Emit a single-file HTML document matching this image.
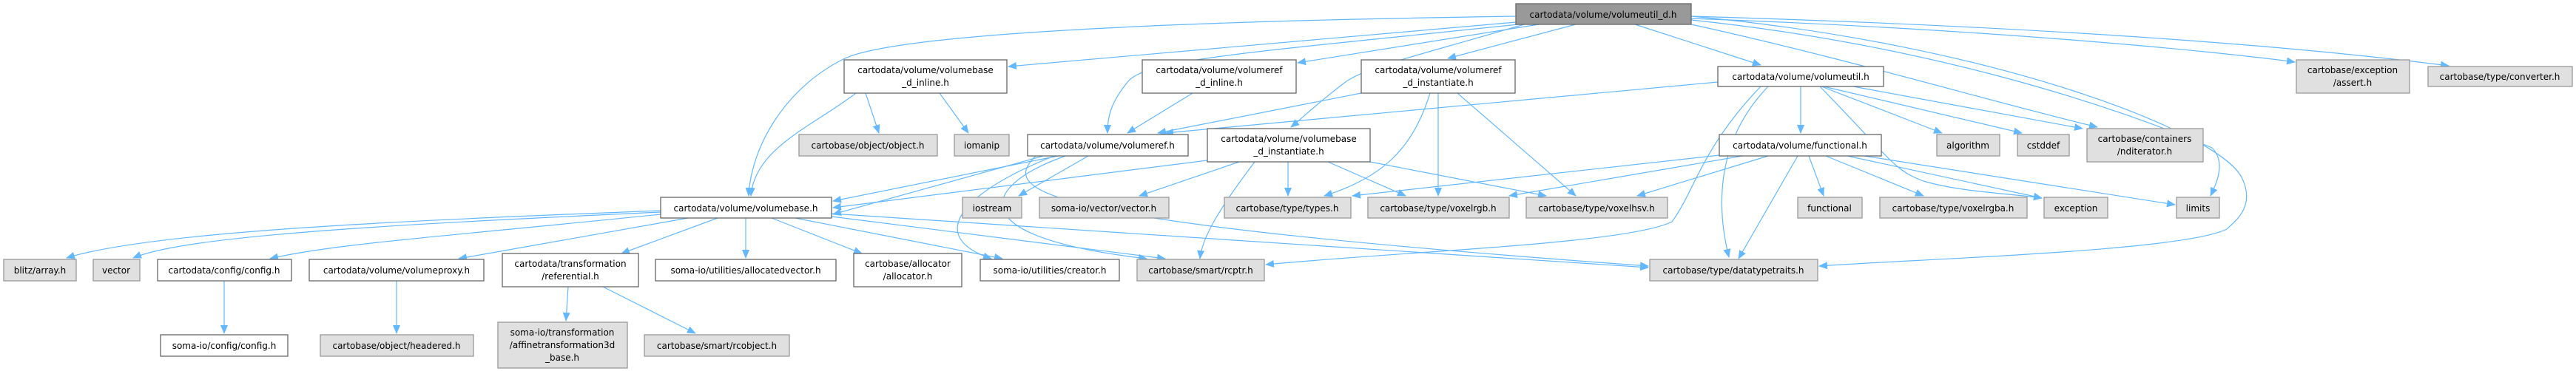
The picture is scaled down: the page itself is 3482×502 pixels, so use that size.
<!DOCTYPE html>
<html><head><meta charset="utf-8"><style>
html,body{margin:0;padding:0;background:#fff;}
svg{display:block;}
text{font-family:"DejaVu Sans","Liberation Sans",sans-serif;font-size:12px;fill:#000;}
.w{fill:#fff;stroke:#666;stroke-width:1.3;}
.g{fill:#e0e0e0;stroke:#999;stroke-width:1.3;}
.r{fill:#999;stroke:#666;stroke-width:1.3;}
.e{fill:none;stroke:#63b8ff;stroke-width:1.2;}
</style></head><body>
<svg width="3482" height="502" viewBox="0 0 3482 502" xmlns="http://www.w3.org/2000/svg">
<defs><marker id="a" markerWidth="12" markerHeight="10" refX="11" refY="5" orient="auto" markerUnits="userSpaceOnUse"><path d="M0,0 L12,5 L0,10 z" fill="#63b8ff"/></marker></defs>
<g class="e" marker-end="url(#a)">
<!-- from volumeutil_d -->
<path d="M2049,22 C1500,30 1200,50 1140,80 C1060,120 1015,200 1012,265"/>
<path d="M2049,30 L1363,90"/>
<path d="M2052,33 C1700,70 1550,80 1525,110 C1500,140 1497,160 1497,180"/>
<path d="M2080,33 L1754,85"/>
<path d="M2130,33 L1957,79"/>
<path d="M2060,33 C1900,80 1850,90 1820,110 C1780,140 1760,160 1745,172"/>
<path d="M2210,33 L2380,88"/>
<path d="M2286,33 C2500,80 2700,140 2835,172"/>
<path d="M2286,27 C2600,60 2850,140 2990,200 C3010,220 2995,250 2988,265"/>
<path d="M2286,22 C2700,60 3000,180 3030,240 C3050,280 3020,300 3010,310 C2950,340 2600,350 2459,360"/>
<path d="M2286,25 C2700,40 3000,70 3102,84"/>
<path d="M2286,22 C2900,40 3200,75 3310,89"/>
<!-- volumebase_d_inline -->
<path d="M1157,126 C1100,170 1020,200 1015,265"/>
<path d="M1170,126 L1188,180"/>
<path d="M1270,126 L1309,180"/>
<!-- volumeref_d_inline -->
<path d="M1612,126 L1524,180"/>
<!-- volumeref_d_instantiate -->
<path d="M1840,126 L1565,180"/>
<path d="M1933,126 C1910,200 1870,240 1790,265"/>
<path d="M1944,126 L1944,265"/>
<path d="M1970,126 L2130,265"/>
<!-- volumeutil.h -->
<path d="M2322,111 L1575,180"/>
<path d="M2434,117 L2434,180"/>
<path d="M2462,117 L2625,180"/>
<path d="M2465,117 L2733,180"/>
<path d="M2505,117 L2815,174"/>
<path d="M2460,117 C2560,220 2560,230 2600,245 C2650,260 2720,262 2760,268"/>
<path d="M2380,117 C2300,200 2290,260 2260,300 C2200,330 1900,340 1711,358"/>
<path d="M2390,117 C2310,200 2325,300 2337,348"/>
<!-- volumeref.h -->
<path d="M1430,211 L1126,272"/>
<path d="M1410,211 L1126,290"/>
<path d="M1471,211 L1377,265"/>
<path d="M1425,211 C1300,260 1250,320 1340,350"/>
<path d="M1440,211 C1330,250 1290,320 1550,350"/>
<path d="M1400,211 C1350,260 1400,300 2228,360"/>
<!-- volumebase_d_instantiate -->
<path d="M1632,217 L1126,281"/>
<path d="M1675,219 L1540,265"/>
<path d="M1696,219 C1650,280 1625,320 1622,350"/>
<path d="M1741,219 L1741,265"/>
<path d="M1795,219 L1900,265"/>
<path d="M1852,219 L2090,265"/>
<!-- functional.h -->
<path d="M2324,210 L1828,265"/>
<path d="M2355,211 L2040,265"/>
<path d="M2390,211 L2213,265"/>
<path d="M2430,211 L2350,350"/>
<path d="M2445,211 L2465,265"/>
<path d="M2468,211 L2600,265"/>
<path d="M2497,211 L2760,268"/>
<path d="M2520,211 L2940,277"/>
<!-- volumebase.h -->
<path d="M893,285 C500,300 200,315 90,349"/>
<path d="M893,287 C500,305 250,320 180,349"/>
<path d="M893,290 C600,320 450,330 365,350"/>
<path d="M930,295 L620,350"/>
<path d="M970,295 L840,343"/>
<path d="M1008,295 L1008,349"/>
<path d="M1043,295 L1165,343"/>
<path d="M1075,295 L1355,350"/>
<path d="M1124,293 L1575,350"/>
<path d="M1124,289 L2228,362"/>
<path d="M303,380 L303,451"/>
<path d="M536,380 L536,451"/>
<path d="M768,388 L765,434"/>
<path d="M815,388 L940,451"/>
</g>
<g>
<rect class="r" x="2049" y="5" width="237" height="28"/><text x="2167" y="24" text-anchor="middle">cartodata/volume/volumeutil_d.h</text>
<rect class="w" x="1141" y="81" width="220" height="45"/><text x="1251" y="99" text-anchor="middle">cartodata/volume/volumebase</text><text x="1251" y="116" text-anchor="middle">_d_inline.h</text>
<rect class="w" x="1544" y="81" width="208" height="45"/><text x="1648" y="99" text-anchor="middle">cartodata/volume/volumeref</text><text x="1648" y="116" text-anchor="middle">_d_inline.h</text>
<rect class="w" x="1840" y="81" width="208" height="45"/><text x="1944" y="99" text-anchor="middle">cartodata/volume/volumeref</text><text x="1944" y="116" text-anchor="middle">_d_instantiate.h</text>
<rect class="w" x="2322" y="90" width="224" height="27"/><text x="2434" y="108" text-anchor="middle">cartodata/volume/volumeutil.h</text>
<rect class="g" x="3104" y="81" width="153" height="45"/><text x="3180" y="99" text-anchor="middle">cartobase/exception</text><text x="3180" y="116" text-anchor="middle">/assert.h</text>
<rect class="g" x="3282" y="90" width="195" height="27"/><text x="3379" y="108" text-anchor="middle">cartobase/type/converter.h</text>

<rect class="g" x="1080" y="182" width="187" height="29"/><text x="1173" y="201" text-anchor="middle">cartobase/object/object.h</text>
<rect class="g" x="1290" y="182" width="74" height="29"/><text x="1327" y="201" text-anchor="middle">iomanip</text>
<rect class="w" x="1389" y="182" width="217" height="29"/><text x="1497" y="201" text-anchor="middle">cartodata/volume/volumeref.h</text>
<rect class="w" x="1632" y="174" width="220" height="45"/><text x="1742" y="192" text-anchor="middle">cartodata/volume/volumebase</text><text x="1742" y="209" text-anchor="middle">_d_instantiate.h</text>
<rect class="w" x="2324" y="182" width="219" height="29"/><text x="2433" y="201" text-anchor="middle">cartodata/volume/functional.h</text>
<rect class="g" x="2618" y="182" width="85" height="29"/><text x="2660" y="201" text-anchor="middle">algorithm</text>
<rect class="g" x="2727" y="182" width="70" height="29"/><text x="2762" y="201" text-anchor="middle">cstddef</text>
<rect class="g" x="2821" y="174" width="157" height="45"/><text x="2899" y="192" text-anchor="middle">cartobase/containers</text><text x="2899" y="209" text-anchor="middle">/nditerator.h</text>

<rect class="w" x="893" y="267" width="231" height="28"/><text x="1008" y="286" text-anchor="middle">cartodata/volume/volumebase.h</text>
<rect class="g" x="1301" y="267" width="80" height="28"/><text x="1341" y="286" text-anchor="middle">iostream</text>
<rect class="g" x="1405" y="267" width="175" height="28"/><text x="1492" y="286" text-anchor="middle">soma-io/vector/vector.h</text>
<rect class="g" x="1655" y="267" width="171" height="28"/><text x="1740" y="286" text-anchor="middle">cartobase/type/types.h</text>
<rect class="g" x="1849" y="267" width="191" height="28"/><text x="1944" y="286" text-anchor="middle">cartobase/type/voxelrgb.h</text>
<rect class="g" x="2063" y="267" width="191" height="28"/><text x="2158" y="286" text-anchor="middle">cartobase/type/voxelhsv.h</text>
<rect class="g" x="2430" y="267" width="87" height="28"/><text x="2473" y="286" text-anchor="middle">functional</text>
<rect class="g" x="2541" y="267" width="199" height="28"/><text x="2640" y="286" text-anchor="middle">cartobase/type/voxelrgba.h</text>
<rect class="g" x="2763" y="267" width="86" height="28"/><text x="2806" y="286" text-anchor="middle">exception</text>
<rect class="g" x="2942" y="267" width="58" height="28"/><text x="2971" y="286" text-anchor="middle">limits</text>

<rect class="g" x="5" y="351" width="98" height="29"/><text x="54" y="370" text-anchor="middle">blitz/array.h</text>
<rect class="g" x="126" y="351" width="63" height="29"/><text x="157" y="370" text-anchor="middle">vector</text>
<rect class="w" x="213" y="351" width="181" height="29"/><text x="303" y="370" text-anchor="middle">cartodata/config/config.h</text>
<rect class="w" x="418" y="351" width="236" height="29"/><text x="536" y="370" text-anchor="middle">cartodata/volume/volumeproxy.h</text>
<rect class="w" x="679" y="343" width="184" height="45"/><text x="771" y="361" text-anchor="middle">cartodata/transformation</text><text x="771" y="378" text-anchor="middle">/referential.h</text>
<rect class="w" x="886" y="351" width="244" height="29"/><text x="1008" y="370" text-anchor="middle">soma-io/utilities/allocatedvector.h</text>
<rect class="w" x="1154" y="343" width="146" height="45"/><text x="1227" y="361" text-anchor="middle">cartobase/allocator</text><text x="1227" y="378" text-anchor="middle">/allocator.h</text>
<rect class="w" x="1325" y="351" width="188" height="29"/><text x="1419" y="370" text-anchor="middle">soma-io/utilities/creator.h</text>
<rect class="g" x="1537" y="351" width="172" height="29"/><text x="1623" y="370" text-anchor="middle">cartobase/smart/rcptr.h</text>
<rect class="g" x="2230" y="351" width="227" height="29"/><text x="2343" y="370" text-anchor="middle">cartobase/type/datatypetraits.h</text>

<rect class="w" x="217" y="453" width="172" height="29"/><text x="303" y="472" text-anchor="middle">soma-io/config/config.h</text>
<rect class="g" x="433" y="453" width="207" height="29"/><text x="536" y="472" text-anchor="middle">cartobase/object/headered.h</text>
<rect class="g" x="673" y="436" width="175" height="62"/><text x="760" y="454" text-anchor="middle">soma-io/transformation</text><text x="760" y="471" text-anchor="middle">/affinetransformation3d</text><text x="760" y="488" text-anchor="middle">_base.h</text>
<rect class="g" x="871" y="453" width="196" height="29"/><text x="969" y="472" text-anchor="middle">cartobase/smart/rcobject.h</text>
</g>
</svg>
</body></html>
